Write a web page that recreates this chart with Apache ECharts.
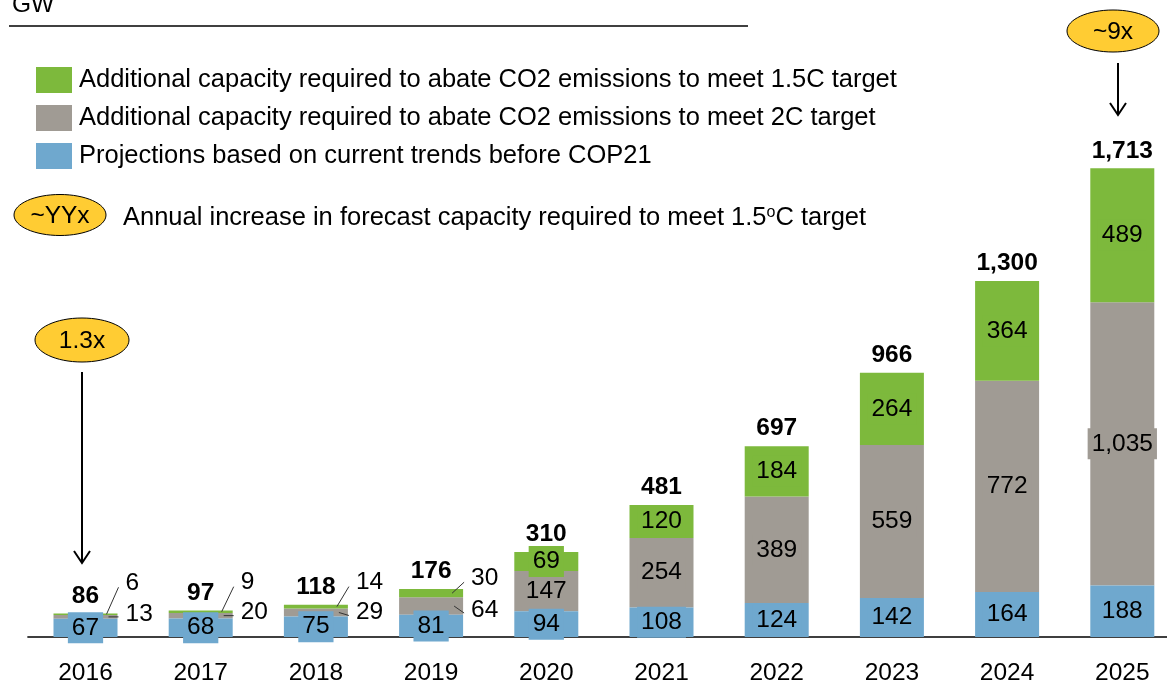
<!DOCTYPE html>
<html>
<head>
<meta charset="utf-8">
<script src="https://cdn.jsdelivr.net/npm/echarts@6/dist/echarts.min.js"></script>
<style>
  html, body { margin: 0; padding: 0; background: #fff; }
  #main { width: 1167px; height: 686px; }
</style>
</head>
<body>
<!-- chart container -->
<div id="main"></div>
<script>
// data (GW)
var years = ['2016', '2017', '2018', '2019', '2020', '2021', '2022', '2023', '2024', '2025']
var currentTrend = [67, 68, 75, 81, 94, 108, 124, 142, 164, 188]
var extra2C = [13, 20, 29, 64, 147, 254, 389, 559, 772, 1035]
var extra15C = [6, 9, 14, 30, 69, 120, 184, 264, 364, 489]
var totals = [86, 97, 118, 176, 310, 481, 697, 966, 1300, 1713]

var names = [
  'Additional capacity required to abate CO2 emissions to meet 1.5C target',
  'Additional capacity required to abate CO2 emissions to meet 2C target',
  'Projections based on current trends before COP21'
]

var GREEN = '#7DB93C'
var GREY = '#A09B94'
var BLUE = '#6FA8CE'
var GOLD = '#FFCC33'
var FONT = 'Liberation Sans, Arial, sans-serif'
var NUM = 24.5 // number labels
var TXT = 25.5 // legend / notes
var BAR_W = 64

// years whose small segments get labels outside the bar
var outerIdx = [0, 1, 2, 3]
// vertical nudges (px) for the outside labels
var greenDy = [-31, -29, -24, -15]
var greyDy = [-3, -3, 0, 4]

function fmt(v) {
  return v.toLocaleString('en-US')
}

function segData(values, color) {
  return values.map(function (v, i) {
    var item = { value: v }
    if (outerIdx.indexOf(i) >= 0 && color !== BLUE) {
      item.label = { show: false }
    }
    return item
  })
}

function segLabel(color) {
  return {
    show: true,
    position: 'inside',
    color: '#000',
    fontSize: NUM,
    fontFamily: FONT,
    backgroundColor: color,
    padding: [4, 4, 3, 4],
    lineHeight: 24,
    formatter: function (p) { return fmt(p.value) }
  }
}

var chart = echarts.init(document.getElementById('main'))

chart.setOption({
  animation: false,
  backgroundColor: '#fff',
  textStyle: { fontFamily: FONT },
  grid: { left: 27.9, right: -12.9, top: 89.4, bottom: 49, outerBoundsMode: 'none', containLabel: false },
  legend: {
    data: names,
    orient: 'vertical',
    left: 36,
    top: 67,
    padding: 0,
    icon: 'rect',
    itemWidth: 36,
    itemHeight: 26,
    itemGap: 12,
    selectedMode: false,
    textStyle: { fontSize: TXT, color: '#000', fontFamily: FONT, padding: [0, 0, 0, 2] }
  },
  xAxis: {
    type: 'category',
    data: years,
    axisLine: { lineStyle: { color: '#000', width: 1.5 } },
    axisTick: { show: false },
    axisLabel: { fontSize: NUM, color: '#000', margin: 24, fontFamily: FONT }
  },
  yAxis: {
    type: 'value',
    min: 0,
    max: 2000,
    show: false,
    splitLine: { show: false }
  },
  series: [
    {
      name: names[2],
      type: 'bar',
      stack: 'gw',
      z: 3,
      barWidth: BAR_W,
      itemStyle: { color: BLUE },
      label: segLabel(BLUE),
      data: segData(currentTrend, BLUE)
    },
    {
      name: names[1],
      type: 'bar',
      stack: 'gw',
      barWidth: BAR_W,
      itemStyle: { color: GREY },
      label: segLabel(GREY),
      data: segData(extra2C, GREY)
    },
    {
      name: names[0],
      type: 'bar',
      stack: 'gw',
      barWidth: BAR_W,
      itemStyle: { color: GREEN },
      label: segLabel(GREEN),
      data: segData(extra15C, GREEN)
    },
    {
      // zero-height bar on top of the stack, carries the total
      name: 'total',
      type: 'bar',
      stack: 'gw',
      barWidth: BAR_W,
      silent: true,
      itemStyle: { color: 'transparent' },
      label: {
        show: true,
        position: 'top',
        distance: 5,
        color: '#000',
        fontSize: NUM,
        fontWeight: 'bold',
        fontFamily: FONT,
        formatter: function (p) { return fmt(totals[p.dataIndex]) }
      },
      data: years.map(function () { return 0 })
    },
    {
      // outside labels + leader lines for the small bars
      type: 'custom',
      silent: true,
      z: 6,
      data: outerIdx.map(function (i) {
        return [i, currentTrend[i], extra2C[i], extra15C[i]]
      }),
      renderItem: function (params, api) {
        var k = params.dataIndex
        var i = api.value(0)
        var base = api.value(1)
        var grey = api.value(2)
        var green = api.value(3)
        var right = api.coord([i, 0])[0] + BAR_W / 2
        var greyMid = api.coord([i, base + grey / 2])[1]
        var greenMid = api.coord([i, base + grey + green / 2])[1]
        var gy = greenMid + greenDy[k]
        var ry = greyMid + greyDy[k]
        var line = { stroke: '#333', lineWidth: 1 }
        return {
          type: 'group',
          children: [
            { type: 'line', shape: { x1: right - 11, y1: greenMid, x2: right + 1, y2: gy + 4 }, style: line },
            { type: 'line', shape: { x1: right - 9, y1: greyMid, x2: right + 1, y2: ry + 3 }, style: line },
            { type: 'text', style: { text: fmt(green), x: right + 8, y: gy, fontSize: NUM, fontFamily: FONT, fill: '#000', align: 'left', verticalAlign: 'middle' } },
            { type: 'text', style: { text: fmt(grey), x: right + 8, y: ry, fontSize: NUM, fontFamily: FONT, fill: '#000', align: 'left', verticalAlign: 'middle' } }
          ]
        }
      }
    }
  ],
  graphic: [
    // unit header
    { type: 'text', left: 12, top: -7, style: { text: 'GW', fontSize: NUM, fontFamily: FONT, fill: '#000' } },
    { type: 'line', shape: { x1: 9, y1: 26, x2: 748, y2: 26 }, style: { stroke: '#000', lineWidth: 1.5 } },
    // legend line for the multiplier bubble
    { type: 'ellipse', shape: { cx: 60, cy: 215, rx: 46, ry: 20.5 }, style: { fill: GOLD, stroke: '#000', lineWidth: 1 } },
    { type: 'text', x: 60, y: 216, style: { text: '~YYx', fontSize: NUM, fontFamily: FONT, fill: '#000', align: 'center', verticalAlign: 'middle' } },
    {
      type: 'text',
      x: 123,
      y: 217,
      style: {
        text: '{a|Annual increase in forecast capacity required to meet 1.5}{s|o}{a|C target}',
        fill: '#000',
        verticalAlign: 'middle',
        rich: {
          a: { fontSize: TXT, fontFamily: FONT, lineHeight: 28, verticalAlign: 'bottom' },
          s: { fontSize: 16, fontFamily: FONT, lineHeight: 28, verticalAlign: 'bottom', padding: [0, 0, 10, 0] }
        }
      }
    },
    // 2016 bubble + arrow
    { type: 'ellipse', shape: { cx: 82, cy: 340, rx: 47, ry: 22 }, style: { fill: GOLD, stroke: '#000', lineWidth: 1 } },
    { type: 'text', x: 82, y: 341, style: { text: '1.3x', fontSize: NUM, fontFamily: FONT, fill: '#000', align: 'center', verticalAlign: 'middle' } },
    { type: 'line', shape: { x1: 82, y1: 372, x2: 82, y2: 563 }, style: { stroke: '#000', lineWidth: 2 } },
    { type: 'polyline', shape: { points: [[74, 551], [82, 563], [90, 551]] }, style: { stroke: '#000', lineWidth: 2, fill: null } },
    // 2025 bubble + arrow
    { type: 'ellipse', shape: { cx: 1113, cy: 31, rx: 46, ry: 21 }, style: { fill: GOLD, stroke: '#000', lineWidth: 1 } },
    { type: 'text', x: 1113, y: 32, style: { text: '~9x', fontSize: NUM, fontFamily: FONT, fill: '#000', align: 'center', verticalAlign: 'middle' } },
    { type: 'line', shape: { x1: 1118, y1: 63, x2: 1118, y2: 115 }, style: { stroke: '#000', lineWidth: 2 } },
    { type: 'polyline', shape: { points: [[1110, 103], [1118, 115], [1126, 103]] }, style: { stroke: '#000', lineWidth: 2, fill: null } }
  ]
})
</script>
</body>
</html>
